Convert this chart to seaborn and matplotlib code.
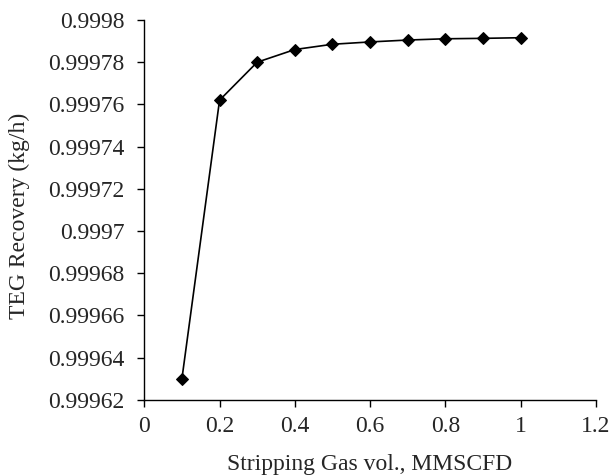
import seaborn as sns
import pandas as pd
from matplotlib import pyplot as plt
from matplotlib.ticker import FuncFormatter, MultipleLocator

# stripping gas volume (MMSCFD) vs TEG recovery
gas_vol = [0.1, 0.2, 0.3, 0.4, 0.5, 0.6, 0.7, 0.8, 0.9, 1.0]
teg_recovery = [0.999630, 0.999762, 0.999780, 0.999786, 0.9997885,
                0.9997896, 0.9997905, 0.9997911, 0.9997913, 0.9997916]

sns.set_style("ticks")
plt.rcParams["font.family"] = ["Liberation Serif", "DejaVu Serif"]
plt.rcParams["font.size"] = 17

df = pd.DataFrame({"x": gas_vol, "y": teg_recovery})

fig, ax = plt.subplots(figsize=(6.13, 4.76), dpi=100)
fig.subplots_adjust(left=0.2354, right=0.972, top=0.958, bottom=0.16)
sns.lineplot(df, x="x", y="y", ax=ax, color="black", linewidth=1.2,
             marker="D", markersize=6.5, markeredgecolor="black")

ax.set(xlim=(0, 1.2), ylim=(0.99962, 0.9998))
ax.xaxis.set_major_locator(MultipleLocator(0.2))
ax.yaxis.set_major_locator(MultipleLocator(0.00002))
ax.xaxis.set_major_formatter(FuncFormatter(lambda v, p: f"{v:.1f}".rstrip("0").rstrip(".")))
ax.yaxis.set_major_formatter(FuncFormatter(lambda v, p: f"{v:.5f}".rstrip("0")))
ax.set_xlabel("Stripping Gas vol., MMSCFD", fontsize=17)
ax.set_ylabel("TEG Recovery (kg/h)", fontsize=17)
ax.xaxis.set_label_coords(0.5, -0.142)
ax.yaxis.set_label_coords(-0.253, 0.484)
ax.tick_params(axis="both", direction="out", length=5, width=1,
               color="black", labelsize=17)
ax.tick_params(axis="y", pad=9.5)
ax.tick_params(axis="x", pad=6.5)
for s in ["left", "bottom"]:
    ax.spines[s].set_color("black")
    ax.spines[s].set_linewidth(1)
sns.despine(ax=ax)

fig.savefig("out.png", dpi=100)
